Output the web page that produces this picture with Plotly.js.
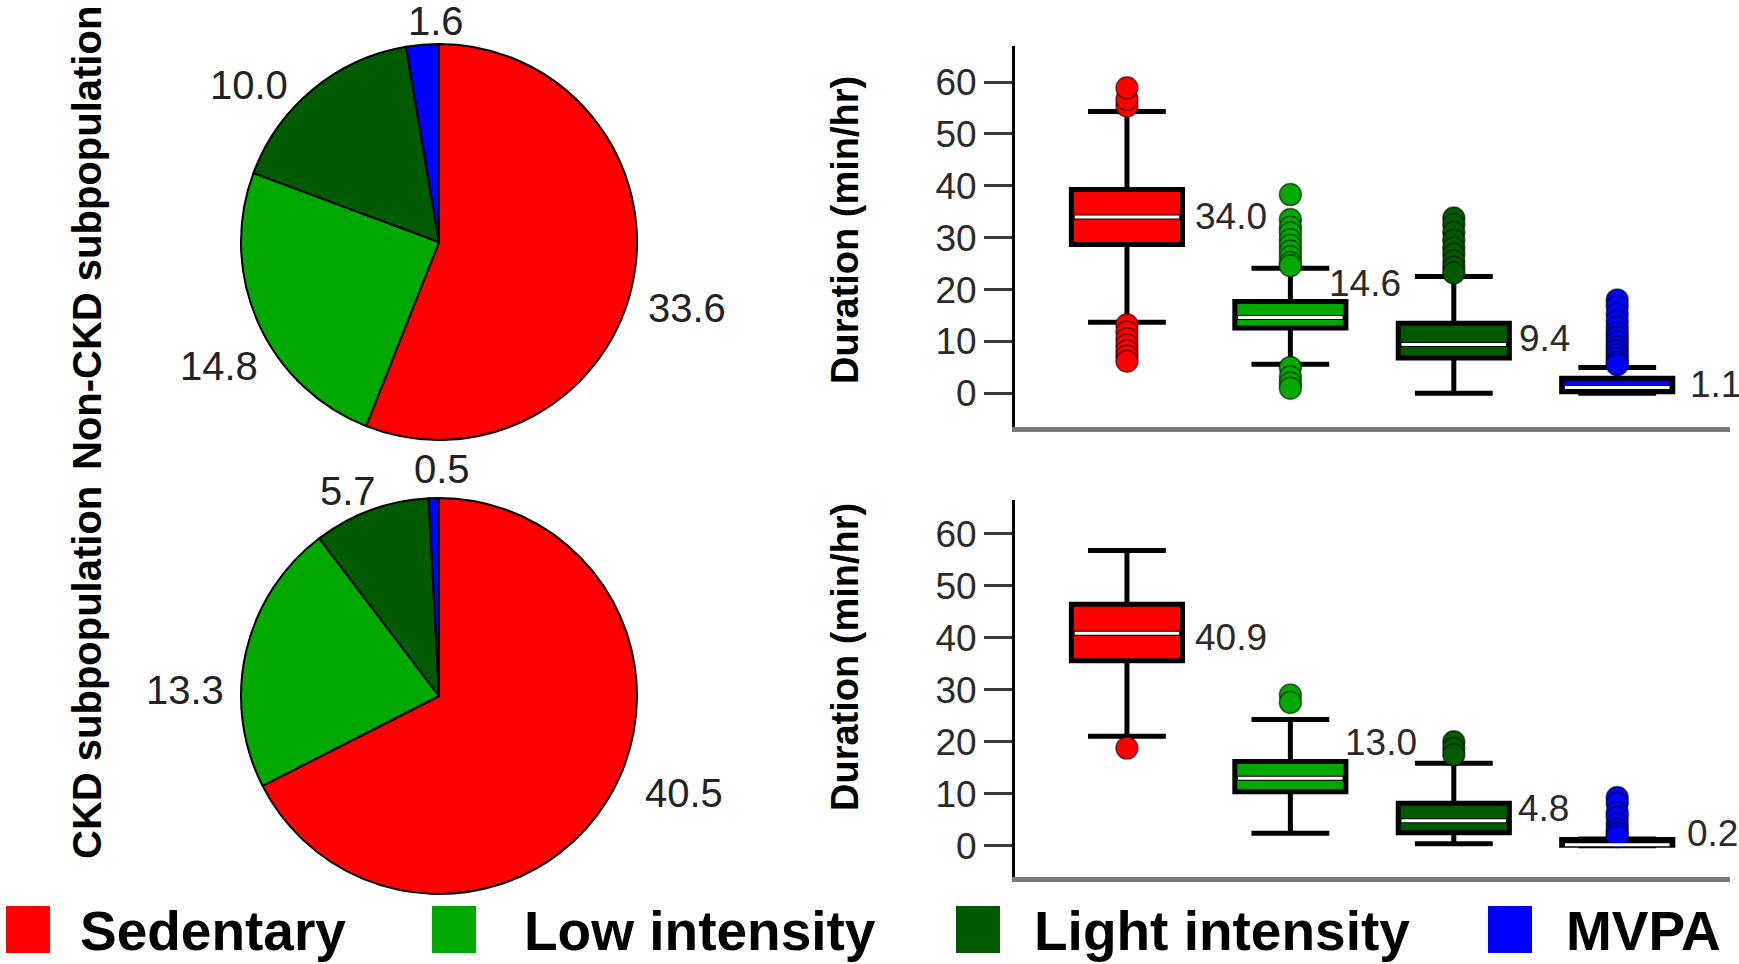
<!DOCTYPE html>
<html>
<head>
<meta charset="utf-8">
<script src="https://cdn.plot.ly/plotly-3.0.1.min.js"></script>
<style>
  html, body { margin: 0; padding: 0; background: #ffffff; overflow: hidden; }
  #chart { width: 1739px; height: 964px; }
</style>
</head>
<body>
<div id="chart"></div>
<script>
// Activity categories and their colours
const categories = ['Sedentary', 'Low intensity', 'Light intensity', 'MVPA'];
const categoryColors = ['#ff0000', '#00a800', '#005a00', '#0000ff'];

// Mean minutes per hour spent in each category (pie charts)
const nonCkdShare = [33.6, 14.8, 10.0, 1.6];
const ckdShare = [40.5, 13.3, 5.7, 0.5];

// Box-plot summaries, Non-CKD subpopulation (min/hr)
const nonCkdQ1 = [28.7, 12.6, 6.8, 0.3];
const nonCkdMedian = [34.0, 14.6, 9.4, 1.1];
const nonCkdQ3 = [39.3, 17.7, 13.5, 2.9];
const nonCkdLowerFence = [13.7, 5.6, 0.0, 0.0];
const nonCkdUpperFence = [54.3, 24.1, 22.5, 5.0];
const nonCkdOutliers = [
  [55.4, 56.7, 58.9, 13.2, 11.8, 10.5, 9.3, 8.2, 7.2, 6.2],
  [38.3, 33.5, 32.0, 30.9, 29.6, 28.5, 27.4, 26.3, 25.2, 24.6, 5.0, 3.2, 2.0, 1.0],
  [33.8, 32.5, 31.0, 29.5, 28.0, 26.8, 25.5, 24.3, 23.2],
  [18.0, 16.8, 15.3, 14.0, 12.8, 11.7, 10.8, 9.9, 9.0, 8.2, 7.4, 6.7, 6.0, 5.5]
];

// Box-plot summaries, CKD subpopulation (min/hr)
const ckdQ1 = [35.6, 10.4, 2.5, 0.1];
const ckdMedian = [40.9, 13.0, 4.8, 0.2];
const ckdQ3 = [46.5, 16.2, 8.2, 1.2];
const ckdLowerFence = [21.1, 2.4, 0.4, 0.0];
const ckdUpperFence = [56.8, 24.3, 15.9, 1.3];
const ckdOutliers = [
  [18.8],
  [29.0, 27.6],
  [20.0, 18.7, 17.5],
  [9.3, 8.2, 6.4, 5.5, 4.2, 3.2, 2.4, 1.8]
];

const yTickValues = [0, 10, 20, 30, 40, 50, 60];

// ---- styling and placement ----
const FONT = 'Liberation Sans, Arial, sans-serif';
const W = 1739, H = 964;
const px = v => v / W;          // horizontal pixel -> paper
const py = v => 1 - v / H;      // vertical pixel -> paper
const BOX_W = 0.68;

// pie geometry (pixels) and label placement
const PIE_R = 198;
const PIE_LABEL_R = 245;
const pieCenters = [[439, 242], [439, 696]];
const pieLabelNudge = [
  [[7, 20], [4, 24], [-34, 32], [18, 23]],
  [[36, -31], [-15, 49], [-7, 25], [9, 18]]
];

// label offsets (pixels) beside each box, [non-CKD, CKD]
const labelShiftX = [[10, -19, 8, 15], [10, -3, 7, 12]];
const labelShiftY = [[0, 34, 6, 3], [-4, 36, 12, 11]];

const traces = [];
const annotations = [];
const shapes = [];

function addPie(values, p) {
  const [cx, cy] = pieCenters[p];
  traces.push({
    type: 'pie',
    values: values,
    labels: categories,
    sort: false,
    direction: 'clockwise',
    rotation: 0,
    marker: { colors: categoryColors, line: { color: '#000000', width: 2 } },
    textinfo: 'none',
    domain: { x: [px(cx - PIE_R), px(cx + PIE_R)], y: [py(cy + PIE_R), py(cy - PIE_R)] },
    showlegend: false,
    hoverinfo: 'label+value'
  });
  // value labels around the pie, placed at each slice's mid-angle
  const total = values.reduce((a, b) => a + b, 0);
  let cum = 0;
  values.forEach((v, i) => {
    const mid = (cum + v / 2) / total * 2 * Math.PI;
    cum += v;
    const lx = cx + PIE_LABEL_R * Math.sin(mid) + pieLabelNudge[p][i][0];
    const ly = cy - PIE_LABEL_R * Math.cos(mid) + pieLabelNudge[p][i][1];
    annotations.push({
      xref: 'paper', yref: 'paper', x: px(lx), y: py(ly),
      xanchor: 'center', yanchor: 'middle',
      text: v.toFixed(1), showarrow: false,
      font: { family: FONT, size: 40, color: '#222222' }
    });
  });
}

addPie(nonCkdShare, 0);
addPie(ckdShare, 1);

function addBoxPanel(q1, med, q3, lo, hi, outliers, xa, ya) {
  categories.forEach((name, i) => {
    const pos = i + 1;
    // outlying observations
    traces.push({
      type: 'scatter', mode: 'markers', xaxis: xa, yaxis: ya,
      x: outliers[i].map(() => pos), y: outliers[i],
      marker: { size: 22, color: categoryColors[i], line: { color: 'rgba(0,0,0,0.55)', width: 1.5 } },
      showlegend: false, hoverinfo: 'y', name: name
    });
    // box and whiskers
    traces.push({
      type: 'box', xaxis: xa, yaxis: ya, name: name,
      x: [pos], q1: [q1[i]], median: [med[i]], q3: [q3[i]],
      lowerfence: [lo[i]], upperfence: [hi[i]],
      boxpoints: false, width: BOX_W, whiskerwidth: 0.7,
      fillcolor: categoryColors[i],
      line: { color: '#000000', width: 5 },
      showlegend: false
    });
    // white median line
    traces.push({
      type: 'scatter', mode: 'lines', xaxis: xa, yaxis: ya,
      x: [pos - BOX_W / 2 + 0.02, pos + BOX_W / 2 - 0.02], y: [med[i], med[i]],
      line: { color: '#ffffff', width: 3 },
      showlegend: false, hoverinfo: 'skip'
    });
  });
}

addBoxPanel(nonCkdQ1, nonCkdMedian, nonCkdQ3, nonCkdLowerFence, nonCkdUpperFence, nonCkdOutliers, 'x', 'y');
addBoxPanel(ckdQ1, ckdMedian, ckdQ3, ckdLowerFence, ckdUpperFence, ckdOutliers, 'x2', 'y2');

// median value labels
[[nonCkdMedian, 'x', 'y'], [ckdMedian, 'x2', 'y2']].forEach(([med, xa, ya], p) => {
  med.forEach((m, i) => {
    annotations.push({
      xref: xa, yref: ya, x: i + 1 + BOX_W / 2, y: m,
      xanchor: 'left', yanchor: 'middle',
      xshift: labelShiftX[p][i], yshift: labelShiftY[p][i],
      text: m.toFixed(1), showarrow: false,
      font: { family: FONT, size: 37, color: '#2a2a2a' }
    });
  });
});

// axis titles
[230, 657].forEach(cy => {
  annotations.push({
    xref: 'paper', yref: 'paper', x: px(845), y: py(cy),
    xanchor: 'center', yanchor: 'middle', textangle: -90,
    text: '<b>Duration (min/hr)</b>', showarrow: false,
    font: { family: FONT, size: 38, color: '#000000' }
  });
});

// row titles
[['Non-CKD subpopulation', 238], ['CKD subpopulation', 673]].forEach(([t, cy]) => {
  annotations.push({
    xref: 'paper', yref: 'paper', x: px(87), y: py(cy),
    xanchor: 'center', yanchor: 'middle', textangle: -90,
    text: '<b>' + t + '</b>', showarrow: false,
    font: { family: FONT, size: 40, color: '#000000' }
  });
});

// legend
const legendSwatchX = [6, 432, 956, 1488];
const legendTextX = [80, 524, 1034, 1566];
categories.forEach((name, i) => {
  shapes.push({
    type: 'rect', xref: 'paper', yref: 'paper',
    x0: px(legendSwatchX[i]), x1: px(legendSwatchX[i] + 44),
    y0: py(953), y1: py(906),
    fillcolor: categoryColors[i], line: { width: 0 }
  });
  annotations.push({
    xref: 'paper', yref: 'paper', x: px(legendTextX[i] - 2), y: py(931),
    xanchor: 'left', yanchor: 'middle',
    text: '<b>' + name + '</b>', showarrow: false,
    font: { family: FONT, size: 55, color: '#000000' }
  });
});

function yAxis(domain, range, anchor) {
  return {
    domain: domain, range: range, anchor: anchor,
    tickvals: yTickValues, ticks: 'outside', ticklen: 28, tickwidth: 3, tickcolor: '#3a3a3a',
    tickfont: { family: FONT, size: 37, color: '#2a2a2a' },
    showline: true, linecolor: '#000000', linewidth: 3,
    showgrid: false, zeroline: false, fixedrange: true
  };
}
function xAxis(anchor) {
  return {
    domain: [px(1015), px(1730)], range: [0.315, 4.69], anchor: anchor,
    showline: true, linecolor: '#7a7a7a', linewidth: 5,
    showticklabels: false, ticks: '', showgrid: false, zeroline: false, fixedrange: true
  };
}

const layout = {
  width: W, height: H,
  margin: { l: 0, r: 0, t: 0, b: 0, pad: 0 },
  paper_bgcolor: '#ffffff', plot_bgcolor: 'rgba(0,0,0,0)',
  font: { family: FONT },
  showlegend: false,
  xaxis: xAxis('y'),
  yaxis: yAxis([py(427), py(46)], [-6.49, 66.94], 'x'),
  xaxis2: xAxis('y2'),
  yaxis2: yAxis([py(877), py(500)], [-6.0, 66.54], 'x2'),
  annotations: annotations,
  shapes: shapes
};

Plotly.newPlot('chart', traces, layout, { displayModeBar: false, staticPlot: true });
</script>
</body>
</html>
